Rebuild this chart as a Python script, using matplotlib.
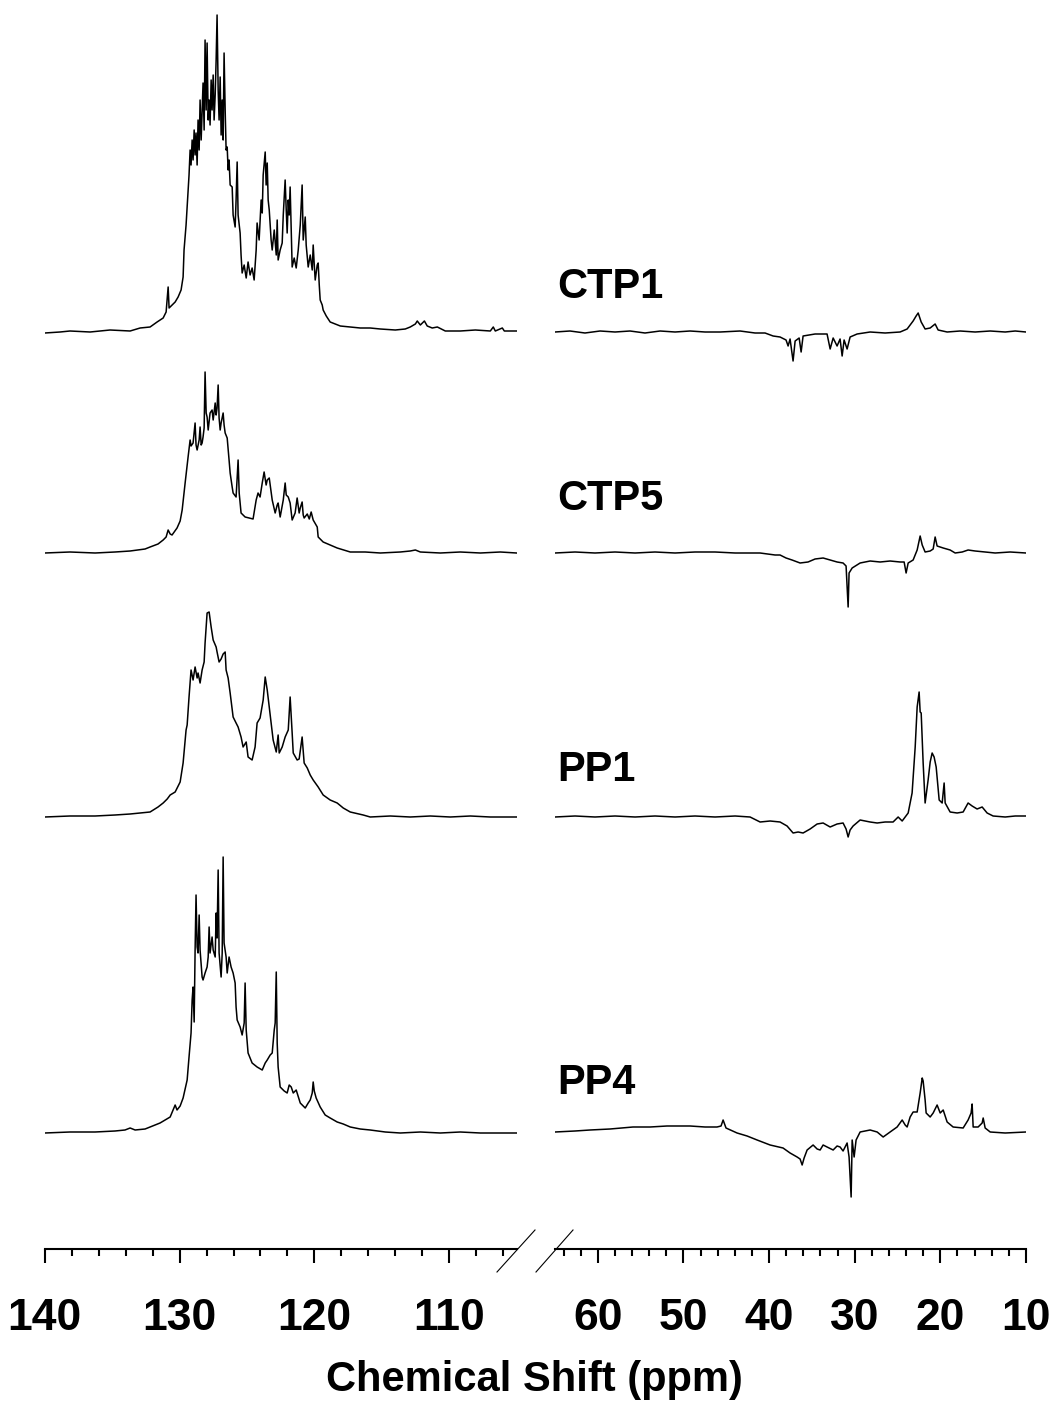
import matplotlib

matplotlib.use("Agg")
import matplotlib.pyplot as plt
from matplotlib.lines import Line2D
from matplotlib.ticker import MultipleLocator

# ---- data: chemical shift (ppm) and intensity (arb.) ----
# aromatic window 140-105 ppm ("hi") and aliphatic window 65-10 ppm ("lo")

CTP1_HI_PPM = [
    140.0, 138.87, 138.13, 136.64, 135.16, 133.67, 132.93, 132.19, 131.67, 131.22,
    131.00, 130.85, 130.78, 130.56, 130.33, 130.11, 129.89, 129.74, 129.67, 129.52,
    129.37, 129.30, 129.22, 129.15, 129.07, 129.00, 128.92, 128.85, 128.78, 128.70,
    128.63, 128.55, 128.48, 128.40, 128.26, 128.18, 128.11, 128.03, 127.96, 127.88,
    127.81, 127.74, 127.66, 127.59, 127.51, 127.44, 127.36, 127.29, 127.22, 127.14,
    127.07, 126.99, 126.92, 126.84, 126.77, 126.70, 126.62, 126.55, 126.47, 126.40,
    126.33, 126.25, 126.10, 126.03, 125.88, 125.81, 125.73, 125.66, 125.51, 125.44,
    125.36, 125.21, 125.06, 124.92, 124.77, 124.62, 124.47, 124.32, 124.25, 124.10,
    123.95, 123.87, 123.80, 123.65, 123.58, 123.50, 123.43, 123.35, 123.21, 123.13,
    122.98, 122.83, 122.76, 122.69, 122.54, 122.39, 122.31, 122.17, 122.09, 122.02,
    121.94, 121.87, 121.80, 121.72, 121.65, 121.50, 121.35, 121.20, 121.05, 120.91,
    120.83, 120.68, 120.61, 120.46, 120.31, 120.16, 120.09, 120.01, 119.94, 119.79,
    119.72, 119.64, 119.57, 119.42, 119.35, 119.12, 118.83, 118.45, 118.08, 117.34,
    116.60, 115.86, 115.11, 114.00, 113.26, 112.89, 112.51, 112.37, 112.14, 111.84,
    111.63, 111.26, 110.88, 110.29, 109.18, 108.06, 106.95, 106.73, 106.58, 106.06,
    105.91, 105.0,
]
CTP1_HI_INT = [
    -1, 0, 1, 0, 2, 1, 4, 5, 10, 14,
    20, 45, 24, 27, 30, 35, 42, 55, 82, 107,
    142, 157, 182, 167, 192, 172, 202, 177, 199, 167,
    212, 182, 232, 192, 249, 202, 292, 222, 289, 212,
    232, 207, 252, 222, 257, 212, 237, 272, 317, 242,
    212, 255, 197, 232, 192, 279, 222, 182, 185, 162,
    172, 147, 145, 117, 105, 132, 170, 117, 99, 77,
    59, 67, 54, 70, 57, 64, 52, 82, 109, 92,
    132, 119, 157, 180, 147, 169, 132, 122, 92, 82,
    102, 77, 112, 72, 82, 89, 117, 152, 122, 99,
    132, 117, 145, 102, 65, 74, 64, 82, 107, 147,
    92, 115, 87, 65, 77, 62, 87, 67, 52, 67,
    69, 47, 32, 27, 22, 16, 10, 8, 6, 5,
    4, 4, 3, 2, 3, 5, 8, 11, 7, 11,
    6, 4, 5, 1, 1, 2, 1, 5, 1, 4,
    1, 1,
]
CTP1_LO_PPM = [
    65.0, 63.25, 61.5, 59.74, 57.99, 56.24, 54.49, 52.73, 50.98, 49.23,
    47.48, 45.72, 43.39, 41.64, 40.47, 39.53, 38.72, 38.02, 37.78, 37.55,
    37.20, 36.96, 36.49, 36.26, 36.03, 34.63, 33.23, 32.87, 32.52, 32.06,
    31.71, 31.47, 31.24, 30.89, 30.54, 29.72, 28.20, 26.45, 24.70, 23.88,
    23.18, 22.83, 22.59, 22.24, 21.78, 21.19, 20.61, 20.26, 19.21, 17.69,
    15.94, 14.18, 12.43, 11.26, 10.0,
]
CTP1_LO_INT = [
    0, 1, -1, 1, 0, 1, -1, 1, 0, 1,
    0, 0, 1, -1, -1, -4, -5, -8, -14, -7,
    -29, -9, -6, -20, -4, -2, -2, -17, -6, -14,
    -7, -24, -8, -17, -5, -2, 0, -1, 0, 3,
    11, 16, 19, 10, 3, 4, 8, 2, 0, 1,
    0, 1, 0, 1, 0,
]

CTP5_HI_PPM = [
    140.0, 138.13, 136.27, 134.79, 133.67, 132.56, 132.19, 131.60, 131.22, 131.00,
    130.85, 130.70, 130.56, 130.19, 129.96, 129.81, 129.59, 129.37, 129.22, 129.15,
    129.00, 128.85, 128.78, 128.70, 128.55, 128.48, 128.40, 128.33, 128.26, 128.18,
    128.11, 128.03, 127.96, 127.88, 127.74, 127.59, 127.51, 127.36, 127.29, 127.22,
    127.14, 127.07, 126.99, 126.92, 126.77, 126.70, 126.62, 126.47, 126.33, 126.25,
    126.10, 126.03, 125.81, 125.73, 125.66, 125.58, 125.44, 125.14, 124.84, 124.55,
    124.32, 124.18, 124.03, 123.87, 123.73, 123.58, 123.50, 123.35, 123.13, 122.91,
    122.76, 122.69, 122.54, 122.31, 122.17, 122.09, 121.94, 121.80, 121.65, 121.43,
    121.28, 121.13, 121.05, 120.91, 120.83, 120.76, 120.53, 120.38, 120.24, 120.09,
    119.79, 119.72, 119.35, 118.83, 118.31, 117.34, 116.23, 115.11, 113.63, 112.89,
    112.51, 112.14, 110.66, 109.18, 107.69, 106.21, 105.0,
]
CTP5_HI_INT = [
    0, 1, 0, 1, 2, 4, 6, 9, 13, 16,
    23, 19, 18, 25, 32, 43, 70, 96, 113, 107,
    110, 130, 108, 103, 113, 126, 108, 110, 116, 125,
    181, 140, 136, 123, 140, 143, 133, 150, 138, 145,
    168, 135, 123, 130, 140, 128, 120, 115, 93, 80,
    66, 60, 56, 75, 93, 60, 40, 36, 35, 34,
    53, 60, 56, 70, 81, 68, 73, 75, 53, 40,
    48, 50, 36, 53, 70, 58, 56, 50, 33, 40,
    55, 40, 45, 51, 38, 35, 39, 34, 41, 33,
    26, 16, 11, 8, 5, 1, 1, 0, 1, 2,
    3, 1, 0, 1, 0, 1, 0,
]
CTP5_LO_PPM = [
    65.0, 62.66, 60.33, 57.99, 55.65, 53.32, 50.98, 48.65, 46.31, 43.97,
    41.05, 39.30, 38.72, 38.02, 37.32, 36.38, 35.45, 34.63, 33.69, 32.87,
    32.06, 31.36, 31.01, 30.77, 30.66, 30.30, 29.37, 28.20, 27.03, 25.87,
    24.70, 24.23, 24.00, 23.76, 23.18, 22.71, 22.36, 22.12, 21.78, 21.19,
    20.84, 20.61, 20.38, 19.67, 18.86, 18.27, 17.45, 16.76, 15.94, 14.77,
    13.60, 11.85, 10.0,
]
CTP5_LO_INT = [
    0, 1, 0, 1, 0, 1, 0, 1, 1, 0,
    0, -2, -2, -5, -7, -10, -9, -6, -5, -7,
    -9, -10, -13, -54, -20, -15, -10, -8, -9, -8,
    -9, -9, -20, -10, -7, 3, 17, 8, 1, 2,
    4, 16, 7, 5, 3, 0, 1, 3, 2, 1,
    0, 1, 0,
]

PP1_HI_PPM = [
    140.0, 138.13, 136.27, 134.79, 133.67, 132.93, 132.19, 131.60, 131.22, 130.92,
    130.70, 130.33, 129.96, 129.74, 129.52, 129.44, 129.30, 129.15, 129.00, 128.85,
    128.70, 128.63, 128.48, 128.33, 128.18, 128.11, 127.96, 127.81, 127.66, 127.51,
    127.29, 127.22, 127.07, 126.92, 126.77, 126.62, 126.55, 126.40, 126.25, 126.03,
    125.81, 125.66, 125.44, 125.29, 125.06, 124.92, 124.62, 124.40, 124.25, 124.03,
    123.80, 123.65, 123.50, 123.35, 123.21, 123.06, 122.83, 122.69, 122.61, 122.39,
    122.17, 121.94, 121.80, 121.65, 121.57, 121.28, 121.13, 120.91, 120.76, 120.53,
    120.31, 120.09, 119.72, 119.35, 118.83, 118.31, 117.86, 117.34, 116.38, 115.86,
    114.37, 112.89, 111.40, 109.92, 108.43, 106.95, 105.0,
]
PP1_HI_INT = [
    0, 1, 1, 2, 3, 4, 5, 10, 14, 18,
    22, 25, 35, 54, 87, 92, 120, 147, 137, 150,
    139, 144, 134, 147, 155, 174, 204, 205, 190, 177,
    170, 165, 155, 158, 163, 165, 147, 139, 124, 100,
    94, 90, 80, 70, 75, 60, 57, 70, 94, 99,
    117, 140, 127, 110, 94, 77, 65, 82, 64, 70,
    80, 87, 120, 84, 64, 57, 58, 80, 54, 49,
    42, 37, 30, 22, 17, 14, 9, 5, 2, 0,
    1, 0, 1, 0, 1, 0, 0,
]
PP1_LO_PPM = [
    65.0, 62.66, 60.33, 57.99, 55.65, 53.32, 50.98, 48.65, 46.31, 43.97,
    42.22, 41.05, 39.88, 38.72, 37.90, 37.20, 36.61, 36.03, 35.21, 34.39,
    33.69, 32.87, 32.06, 31.36, 31.01, 30.77, 30.54, 30.19, 29.37, 28.20,
    27.38, 26.45, 25.52, 24.93, 24.46, 23.76, 23.30, 22.94, 22.71, 22.48,
    22.36, 22.24, 22.01, 21.78, 21.43, 21.19, 20.96, 20.73, 20.49, 20.14,
    19.79, 19.56, 19.44, 18.86, 18.04, 17.34, 16.76, 16.29, 15.71, 15.12,
    14.54, 13.84, 12.43, 11.26, 10.0,
]
PP1_LO_INT = [
    0, 1, 0, 1, 0, 1, 0, 1, 0, 1,
    0, -5, -4, -5, -9, -16, -15, -16, -12, -7,
    -6, -10, -7, -6, -12, -20, -13, -9, -3, -5,
    -6, -5, -5, 0, -4, 4, 24, 70, 110, 125,
    105, 104, 54, 14, 37, 55, 64, 60, 50, 17,
    14, 34, 14, 5, 4, 5, 14, 11, 8, 10,
    4, 1, 0, 1, 1,
]

PP4_HI_PPM = [
    140.0, 138.13, 136.27, 134.79, 134.05, 133.67, 133.30, 132.56, 132.19, 131.45,
    130.70, 130.33, 130.19, 129.96, 129.74, 129.44, 129.30, 129.15, 129.07, 129.00,
    128.92, 128.85, 128.78, 128.70, 128.63, 128.55, 128.48, 128.33, 128.26, 128.11,
    127.96, 127.88, 127.81, 127.74, 127.59, 127.51, 127.36, 127.29, 127.22, 127.14,
    127.07, 126.92, 126.84, 126.77, 126.70, 126.55, 126.47, 126.33, 126.18, 126.03,
    125.88, 125.81, 125.73, 125.51, 125.36, 125.21, 125.14, 125.06, 124.92, 124.62,
    124.25, 123.87, 123.65, 123.50, 123.28, 123.13, 122.98, 122.91, 122.83, 122.76,
    122.69, 122.54, 122.24, 122.02, 121.87, 121.72, 121.57, 121.35, 121.05, 120.83,
    120.68, 120.46, 120.31, 120.16, 120.09, 120.01, 119.87, 119.57, 119.20, 118.83,
    118.31, 117.86, 117.34, 116.60, 115.86, 114.74, 113.63, 112.14, 110.66, 109.18,
    107.69, 106.21, 105.0,
]
PP4_HI_INT = [
    0, 1, 1, 2, 3, 5, 3, 4, 6, 10,
    16, 28, 23, 27, 35, 53, 76, 100, 133, 146,
    111, 183, 238, 186, 180, 218, 183, 156, 153, 160,
    166, 176, 206, 180, 196, 183, 176, 220, 195, 263,
    180, 156, 180, 276, 190, 176, 160, 176, 166, 160,
    150, 126, 113, 106, 98, 110, 150, 103, 80, 70,
    66, 63, 70, 73, 78, 80, 103, 110, 161, 90,
    66, 46, 42, 40, 48, 46, 40, 43, 30, 27,
    25, 30, 33, 40, 51, 42, 35, 26, 18, 15,
    11, 9, 6, 4, 3, 1, 0, 1, 0, 1,
    0, 0, 0,
]
PP4_LO_PPM = [
    65.0, 62.66, 60.91, 58.57, 55.89, 53.90, 51.92, 49.23, 47.48, 46.08,
    45.61, 45.37, 45.03, 43.74, 42.57, 41.40, 39.88, 38.37, 37.55, 36.73,
    36.38, 36.14, 35.91, 35.56, 34.86, 34.39, 34.04, 33.69, 33.23, 32.52,
    32.06, 31.71, 31.36, 30.89, 30.66, 30.42, 30.30, 30.07, 29.84, 29.37,
    28.79, 28.20, 27.38, 26.68, 25.87, 25.05, 24.46, 24.11, 23.88, 23.53,
    23.18, 22.71, 22.36, 22.12, 22.01, 21.78, 21.66, 21.19, 20.84, 20.38,
    20.02, 19.67, 19.21, 18.51, 17.34, 16.76, 16.41, 16.29, 16.17, 15.59,
    15.12, 15.00, 14.77, 14.18, 12.43, 10.0,
]
PP4_LO_INT = [
    1, 2, 3, 4, 6, 6, 7, 7, 6, 6,
    7, 13, 5, 0, -3, -7, -12, -15, -20, -24,
    -26, -32, -25, -17, -12, -16, -17, -12, -14, -17,
    -13, -14, -18, -10, -24, -64, -7, -24, -7, 1,
    2, 3, 1, -4, 1, 6, 13, 8, 6, 16,
    21, 21, 40, 55, 52, 33, 20, 16, 20, 28,
    20, 23, 11, 6, 5, 13, 20, 29, 6, 6,
    10, 15, 5, 1, 0, 1,
]

SAMPLES = ["CTP1", "CTP5", "PP1", "PP4"]
HI_WINDOW = (140, 105)
LO_WINDOW = (65, 10)
HI_TICKS = [140, 130, 120, 110]
LO_TICKS = [60, 50, 40, 30, 20, 10]

spectra = {
    "CTP1": (CTP1_HI_PPM, CTP1_HI_INT, CTP1_LO_PPM, CTP1_LO_INT),
    "CTP5": (CTP5_HI_PPM, CTP5_HI_INT, CTP5_LO_PPM, CTP5_LO_INT),
    "PP1": (PP1_HI_PPM, PP1_HI_INT, PP1_LO_PPM, PP1_LO_INT),
    "PP4": (PP4_HI_PPM, PP4_HI_INT, PP4_LO_PPM, PP4_LO_INT),
}

# ---- layout ----
W, H = 1051, 1403
offsets = {"CTP1": 917, "CTP5": 696, "PP1": 432, "PP4": 116}
label_y = {"CTP1": 287, "CTP5": 499, "PP1": 770, "PP4": 1083}  # pixel rows
axis_row = 1249
text_font = ["Liberation Sans", "DejaVu Sans"]

fig = plt.figure(figsize=(W / 100, H / 100), dpi=100)
bottom = 1 - axis_row / H
ax_hi = fig.add_axes([44.8 / W, bottom, 471.8 / W, axis_row / H])
ax_lo = fig.add_axes([555 / W, bottom, 471 / W, axis_row / H])

for name in SAMPLES:
    hp, hi, lp, li = spectra[name]
    off = offsets[name]
    ax_hi.plot(hp, [v + off for v in hi], color="black", lw=1.1)
    ax_lo.plot(lp, [v + off for v in li], color="black", lw=1.1)

for ax, window, ticks in ((ax_hi, HI_WINDOW, HI_TICKS), (ax_lo, LO_WINDOW, LO_TICKS)):
    ax.set_xlim(*window)
    ax.set_ylim(0, axis_row)
    for side in ("top", "left", "right"):
        ax.spines[side].set_visible(False)
    ax.spines["bottom"].set_linewidth(1.5)
    ax.set_yticks([])
    ax.set_xticks(ticks, labels=[str(t) for t in ticks],
                  fontfamily=text_font, fontweight="bold", fontsize=32)
    ax.xaxis.set_minor_locator(MultipleLocator(2))
    ax.tick_params(axis="x", which="major", direction="out", length=10, width=1.5, pad=25)
    ax.tick_params(axis="x", which="minor", direction="out", length=5, width=1.5)
    ax.patch.set_visible(False)

# axis break marks
for x0, x1 in ((497, 535), (536, 573)):
    fig.add_artist(Line2D([x0 / W, x1 / W], [1 - 1272 / H, 1 - 1230 / H],
                          transform=fig.transFigure, color="black", lw=0.8))

for name in SAMPLES:
    fig.text(557 / W, 1 - label_y[name] / H, name, ha="left", va="center",
             fontsize=30, fontweight="bold", fontfamily=text_font)

fig.text(534 / W, 1 - 1380 / H, "Chemical Shift (ppm)", ha="center", va="center",
         fontsize=30, fontweight="bold", fontfamily=text_font)

fig.savefig("out.png", dpi=100)
plt.close(fig)
